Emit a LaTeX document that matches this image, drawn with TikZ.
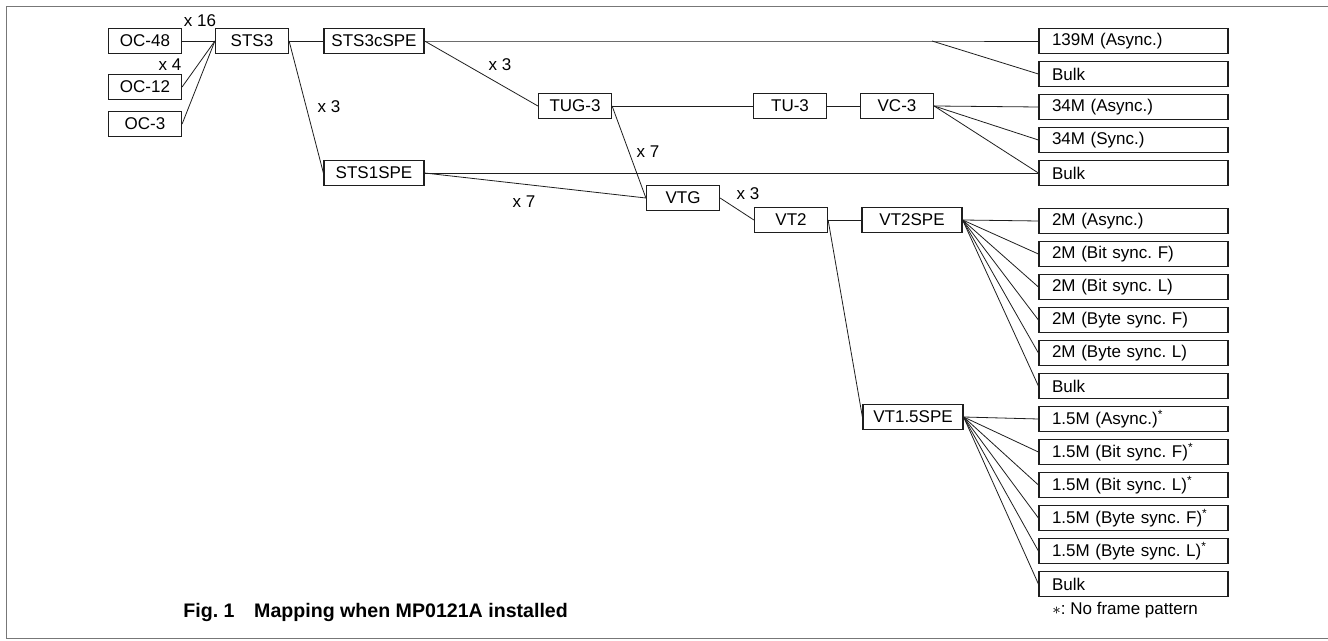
\documentclass[tikz,border=0pt]{standalone}
\usepackage{fontspec}
\setmainfont{Liberation Sans}
\usetikzlibrary{positioning}
\definecolor{ink}{HTML}{1E1E1E}
\definecolor{framegray}{HTML}{777777}
\frenchspacing

\begin{document}
\begin{tikzpicture}[x=0.5pt,y=-0.5pt,node distance=3.4pt,
  box/.style={draw=ink,line width=0.6pt,minimum width=36.5pt,minimum height=12.5pt,inner sep=1pt,font=\fontsize{8.5}{10}\selectfont},
  wbox/.style={box,minimum width=50pt},
  sig/.style={draw=ink,line width=0.6pt,minimum height=12.5pt,text width=81.5pt,inner xsep=6.5pt,inner ysep=1pt,align=left,font=\fontsize{8.5}{10}\selectfont},
  mux/.style={inner sep=0pt,font=\fontsize{8.5}{10}\selectfont},
  link/.style={draw=ink,line width=0.4pt}]
\useasboundingbox (0,0) rectangle (1328,641);
\draw[framegray,line width=0.5pt] (1340,7) -- (6,7) -- (6,638) -- (1340,638);
% optical and path layer
\node[box] (oc48) at (145,41) {OC-48};
\node[box] (oc12) at (145,87) {OC-12};
\node[box] (oc3) at (145,124) {OC-3};
\node[box] (sts3) at (252,41) {STS3};
\node[wbox] (sts3c) at (374,41) {STS3cSPE};
\node[wbox] (sts1) at (374,173) {STS1SPE};
\node[box] (tug3) at (575,106) {TUG-3};
\node[box] (tu3) at (790,106) {TU-3};
\node[box] (vc3) at (897,106) {VC-3};
\node[box] (vtg) at (683,198) {VTG};
\node[box] (vt2) at (791,220) {VT2};
\node[wbox] (vt2spe) at (912,220) {VT2SPE};
\node[wbox] (vt15spe) at (913,417) {VT1.5SPE};
% mapped signals
\node[sig] (c139) at (1133.5,41) {139M (Async.)};
\node[sig,below=of c139] (bulka) {Bulk};
\node[sig,below=of bulka] (c34a) {34M (Async.)};
\node[sig,below=of c34a] (c34s) {34M (Sync.)};
\node[sig,below=of c34s] (bulkb) {Bulk};
\node[sig,below=10.9pt of bulkb] (m2a) {2M (Async.)};
\node[sig,below=of m2a] (m2bf) {2M (Bit sync. F)};
\node[sig,below=of m2bf] (m2bl) {2M (Bit sync. L)};
\node[sig,below=of m2bl] (m2yf) {2M (Byte sync. F)};
\node[sig,below=of m2yf] (m2yl) {2M (Byte sync. L)};
\node[sig,below=of m2yl] (bulkc) {Bulk};
\node[sig,below=of bulkc] (m15a) {1.5M (Async.)\textsuperscript{*}};
\node[sig,below=of m15a] (m15bf) {1.5M (Bit sync. F)\textsuperscript{*}};
\node[sig,below=of m15bf] (m15bl) {1.5M (Bit sync. L)\textsuperscript{*}};
\node[sig,below=of m15bl] (m15yf) {1.5M (Byte sync. F)\textsuperscript{*}};
\node[sig,below=of m15yf] (m15yl) {1.5M (Byte sync. L)\textsuperscript{*}};
\node[sig,below=of m15yl] (bulkd) {Bulk};
% multiplex factors
\node[mux] (n16) at (200,21) {x 16};
\node[mux] (n4) at (170,65) {x 4};
\node[mux] (n3a) at (329,107) {x 3};
\node[mux] (n3b) at (500,65) {x 3};
\node[mux] (n7a) at (524,202) {x 7};
\node[mux] (n7b) at (648,152) {x 7};
\node[mux] (n3c) at (748,194) {x 3};
% captions
\node[mux,anchor=west,font=\bfseries\fontsize{9.8}{11}\selectfont] (caption) at (183,612) {Fig. 1\quad Mapping when MP0121A installed};
\node[mux,anchor=west] (note) at (1052,610) {$\ast$: No frame pattern};
\coordinate (split) at (932,41);
\draw[link] (oc48) -- (sts3);
\draw[link] (oc12.east) -- (sts3.west);
\draw[link] (oc3.east) -- (sts3.west);
\draw[link] (sts3) -- (sts3c);
\draw[link] (sts3.east) -- (sts1.west);
\draw[link] (sts3c.east) -- (split) -- (c139.west);
\draw[link] (split) -- (bulka.west);
\draw[link] (sts3c.east) -- (tug3.west);
\draw[link] (tug3) -- (tu3);
\draw[link] (tu3) -- (vc3);
\draw[link] (vc3.east) -- (c34a.west);
\draw[link] (vc3.east) -- (c34s.west);
\draw[link] (vc3.east) -- (bulkb.west);
\draw[link] (sts1.east) -- (bulkb.west);
\draw[link] (sts1.east) -- (vtg.west);
\draw[link] (tug3.east) -- (vtg.west);
\draw[link] (vtg.east) -- (vt2.west);
\draw[link] (vt2) -- (vt2spe);
\draw[link] (vt2.east) -- (vt15spe.west);
\draw[link] (vt2spe.east) -- (m2a.west);
\draw[link] (vt2spe.east) -- (m2bf.west);
\draw[link] (vt2spe.east) -- (m2bl.west);
\draw[link] (vt2spe.east) -- (m2yf.west);
\draw[link] (vt2spe.east) -- (m2yl.west);
\draw[link] (vt2spe.east) -- (bulkc.west);
\draw[link] (vt15spe.east) -- (m15a.west);
\draw[link] (vt15spe.east) -- (m15bf.west);
\draw[link] (vt15spe.east) -- (m15bl.west);
\draw[link] (vt15spe.east) -- (m15yf.west);
\draw[link] (vt15spe.east) -- (m15yl.west);
\draw[link] (vt15spe.east) -- (bulkd.west);
\end{tikzpicture}
\end{document}
